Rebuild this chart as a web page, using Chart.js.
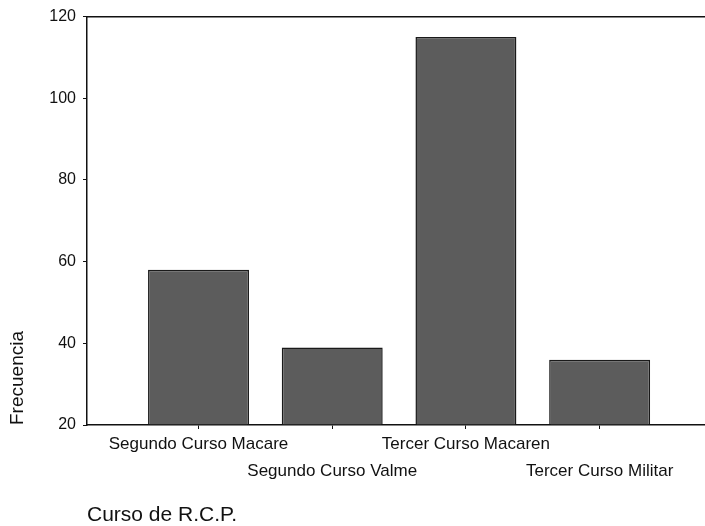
<!DOCTYPE html>
<html lang="es">
<head>
<meta charset="UTF-8">
<title>Curso de R.C.P.</title>
<style>
    body { margin: 0; background: #fff; }
    .wrap { width: 705px; height: 526px; }
</style>
<script src="https://cdn.jsdelivr.net/npm/chart.js"></script>
</head>
<body>
<div class="wrap"><canvas id="chart"></canvas></div>
<script>
    // data
    const categories = ['Segundo Curso Macare', 'Segundo Curso Valme', 'Tercer Curso Macaren', 'Tercer Curso Militar'];
    const frecuencia = [58, 39, 115, 36];
    const yTicks = [20, 40, 60, 80, 100, 120];

    const font = 'Arial, "Liberation Sans", sans-serif';
    const ink = '#111';

    const points = categories.map((c, i) => ({ x: i, y: frecuencia[i] }));

    new Chart(document.getElementById('chart'), {
        type: 'bar',
        data: {
            datasets: [{
                data: points,
                base: yTicks[0],
                backgroundColor: '#5c5c5c',
                borderColor: '#1a1a1a',
                borderWidth: 1.5,
                barPercentage: 0.755,
                categoryPercentage: 1
            }]
        },
        options: {
            responsive: true,
            maintainAspectRatio: false,
            animation: false,
            layout: { padding: 0 },
            plugins: { legend: { display: false }, tooltip: { enabled: false } },
            scales: {
                x: {
                    type: 'linear',
                    position: 'bottom',
                    offset: false,
                    min: -0.834,
                    max: 3.788,
                    afterBuildTicks: s => { s.ticks = categories.map((c, i) => ({ value: i })); },
                    afterFit: s => { s.height = 101; },
                    grid: { display: true, offset: false, drawOnChartArea: false, drawTicks: true, tickLength: 4, color: ink },
                    border: { display: true, color: ink, width: 1.5 },
                    ticks: {
                        autoSkip: false,
                        maxRotation: 0,
                        padding: 2,
                        color: ink,
                        font: { family: font, size: 17, lineHeight: 1.6 },
                        callback: v => (v % 2 === 0 ? [categories[v], ''] : ['', categories[v]])
                    },
                    title: {
                        display: true,
                        text: 'Curso de R.C.P.',
                        align: 'start',
                        color: ink,
                        font: { family: font, size: 21, lineHeight: 1.05 },
                        padding: { top: 0, bottom: 0 }
                    }
                },
                top: {
                    type: 'linear',
                    position: 'top',
                    offset: false,
                    min: 0,
                    max: 1,
                    afterFit: s => { s.height = 15; },
                    grid: { display: false },
                    ticks: { display: false },
                    border: { display: true, color: ink, width: 1.5 }
                },
                y: {
                    min: yTicks[0],
                    max: yTicks[yTicks.length - 1],
                    afterBuildTicks: s => { s.ticks = yTicks.map(v => ({ value: v })); },
                    afterFit: s => { s.width = 87; },
                    grid: { display: true, drawOnChartArea: false, drawTicks: true, tickLength: 4, color: ink },
                    border: { display: true, color: ink, width: 1.5 },
                    ticks: { padding: 7, color: ink, font: { family: font, size: 16 } },
                    title: {
                        display: true,
                        text: 'Frecuencia',
                        align: 'start',
                        color: ink,
                        font: { family: font, size: 19 },
                        padding: { top: 6, bottom: 0 }
                    }
                }
            }
        }
    });
</script>
</body>
</html>
